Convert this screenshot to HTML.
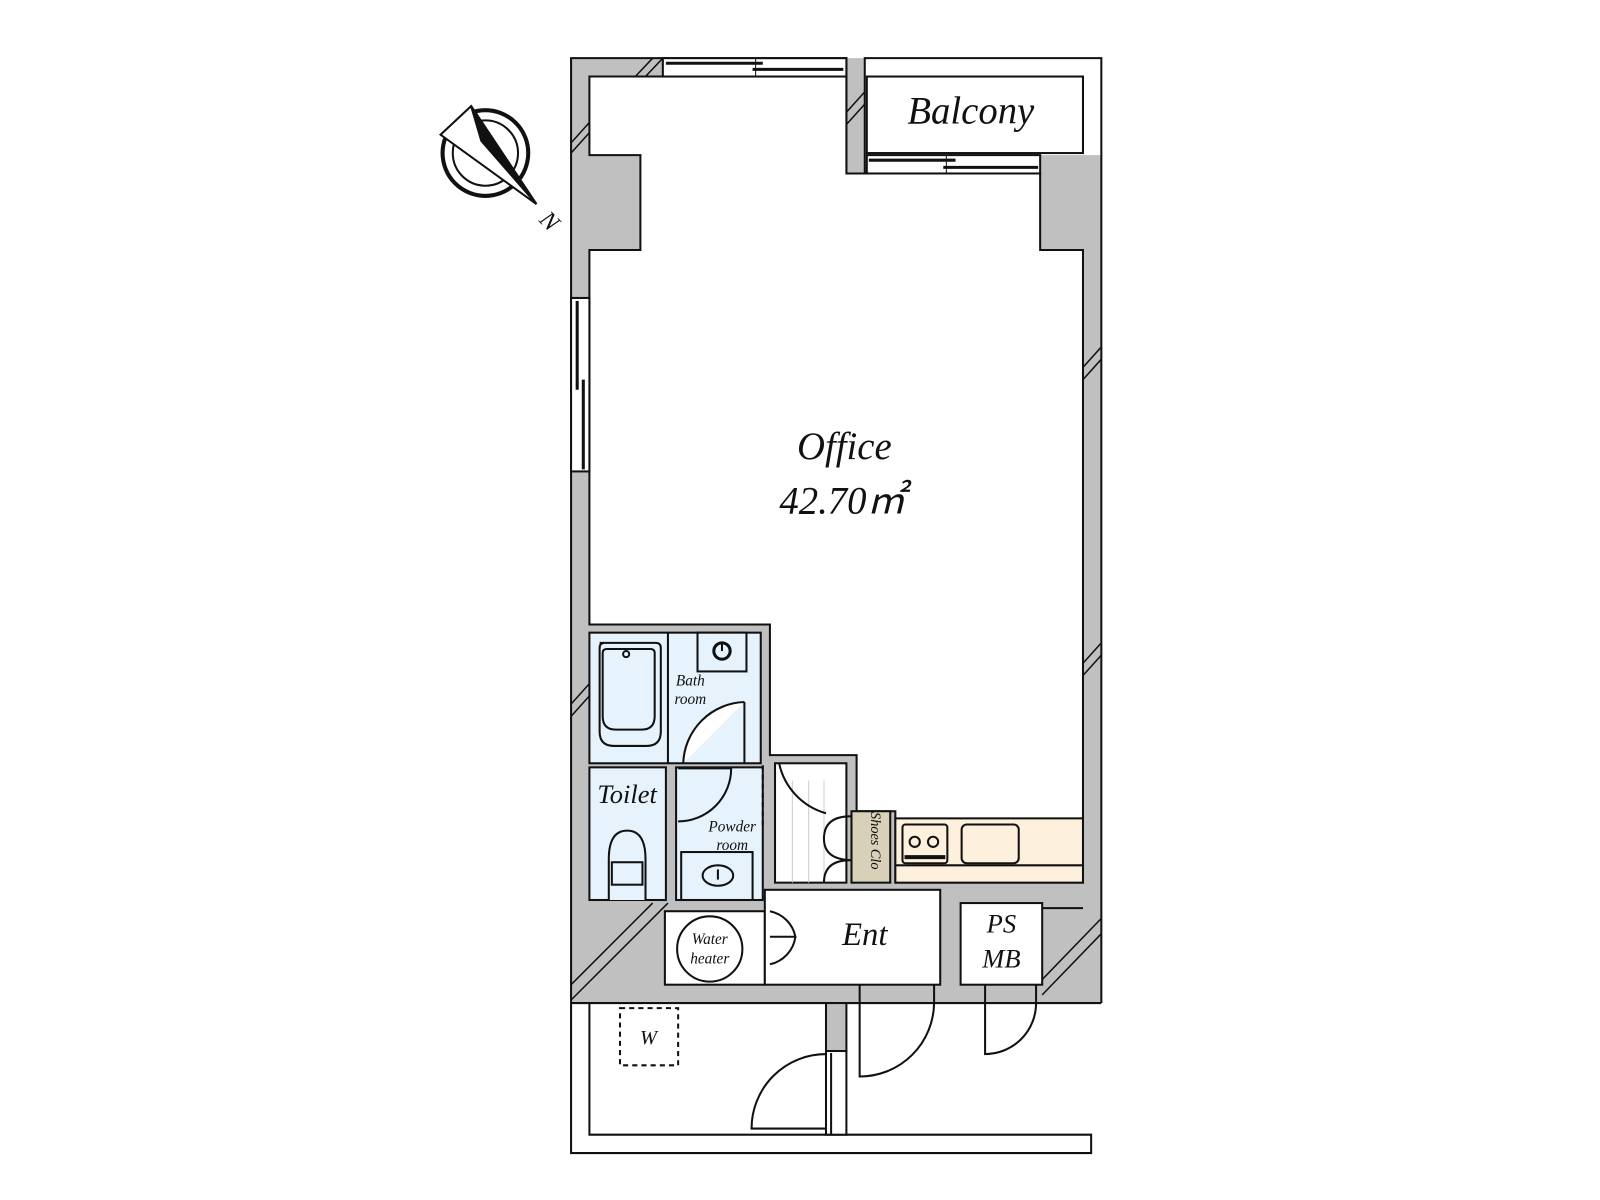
<!DOCTYPE html>
<html><head><meta charset="utf-8"><style>
html,body{margin:0;padding:0;background:#fff;}
svg{display:block;}
text{font-family:"Liberation Serif",serif;font-style:italic;fill:#111;}
</style></head><body>
<svg width="1600" height="1200" viewBox="0 0 1569 1176" preserveAspectRatio="none" xmlns="http://www.w3.org/2000/svg">
<g stroke="#111" stroke-width="2" fill="none">
<path d="M560 57 H848 V57 H1080 V983 H560 Z" fill="#c0c0c0" stroke="none"/>
<rect x="848" y="57" width="232" height="95" fill="#fff" stroke="none"/>
<path d="M560 983 V57 H830 V170 H848 V57 H1080 V983" fill="none"/>
<rect x="850" y="75" width="212" height="75" fill="#fff"/>
<path d="M578 75 H830 V170 H1020 V245 H1062 V865 H878 V802 H878 V795 H840 V740 H755 V612 H578 V245 H628 V152 H578 Z" fill="#fff"/>
<rect x="650" y="57" width="180" height="18" fill="#fff"/>
<line x1="653" y1="62" x2="748" y2="62" stroke-width="3"/>
<line x1="738" y1="68" x2="827" y2="68" stroke-width="3"/>
<line x1="741" y1="57" x2="741" y2="75" stroke-width="1"/>
<rect x="850" y="152" width="170" height="18" fill="#fff"/>
<line x1="852" y1="157" x2="937" y2="157" stroke-width="3"/>
<line x1="925" y1="164" x2="1018" y2="164" stroke-width="3"/>
<line x1="928" y1="152" x2="928" y2="170" stroke-width="1"/>
<rect x="560" y="292" width="18" height="170" fill="#fff"/>
<line x1="566" y1="295" x2="566" y2="382" stroke-width="3"/>
<line x1="572" y1="372" x2="572" y2="460" stroke-width="3"/>
<g stroke-width="1.5">
<line x1="560" y1="140" x2="578" y2="120"/><line x1="560" y1="150" x2="578" y2="130"/>
<line x1="623" y1="75" x2="640" y2="57"/><line x1="633" y1="75" x2="650" y2="57"/>
<line x1="830" y1="110" x2="848" y2="90"/><line x1="830" y1="122" x2="848" y2="102"/>
<line x1="1062" y1="360" x2="1080" y2="340"/><line x1="1062" y1="372" x2="1080" y2="352"/>
<line x1="1062" y1="650" x2="1080" y2="630"/><line x1="1062" y1="662" x2="1080" y2="642"/>
<line x1="560" y1="690" x2="578" y2="670"/><line x1="560" y1="702" x2="578" y2="682"/>
<line x1="560" y1="965" x2="640" y2="885"/><line x1="560" y1="980" x2="655" y2="885"/>
<line x1="1022" y1="960" x2="1080" y2="900"/><line x1="1022" y1="975" x2="1080" y2="915"/>
</g>
<rect x="578" y="620" width="168" height="128" fill="#e6f3fc"/>
<line x1="655" y1="620" x2="655" y2="748"/>
<rect x="684" y="620" width="48" height="38" fill="#e6f3fc"/>
<circle cx="708" cy="638" r="8" stroke-width="3"/><line x1="708" y1="629" x2="708" y2="638" stroke-width="2"/>
<path d="M588 630 h55 q5 0 5 5 v82 q0 14 -14 14 h-32 q-14 0 -14 -14 v-82 q0 -5 5 -5z" fill="#e6f3fc"/>
<path d="M594 636 h44 q4 0 4 4 v62 q0 13 -13 13 h-25 q-13 0 -13 -13 v-62 q0 -4 4 -4z"/>
<circle cx="614" cy="641" r="3"/>
<path d="M730 688 A62 62 0 0 0 670 748" fill="#fff"/><line x1="730" y1="688" x2="730" y2="748" />
<rect x="578" y="752" width="75" height="130" fill="#e6f3fc"/>
<path d="M597 882 v-40 q0 -28 18 -28 q18 0 18 28 v40" fill="#e6f3fc"/>
<rect x="600" y="845" width="30" height="22" fill="#e6f3fc"/>
<rect x="663" y="752" width="85" height="130" fill="#e6f3fc"/>
<rect x="668" y="835" width="70" height="47" fill="#e6f3fc"/>
<ellipse cx="704" cy="858" rx="15" ry="10"/>
<line x1="704" y1="852" x2="704" y2="862" stroke-width="2"/>
<path d="M665 753 H717 A52 52 0 0 1 665 805"/>
<line x1="748" y1="750" x2="748" y2="810" stroke-dasharray="5 4"/>
<rect x="760" y="748" width="70" height="117" fill="#fff"/>
<g stroke="#ccc" stroke-width="1"><line x1="777" y1="765" x2="777" y2="865"/><line x1="793" y1="765" x2="793" y2="865"/><line x1="808" y1="765" x2="808" y2="865"/></g>
<path d="M764 748 A65 65 0 0 0 810 797"/>
<path d="M834 800 Q808 800 808 822 Q808 842 834 843 Q808 843 808 865"/>
<rect x="835" y="795" width="38" height="70" fill="#d8d0b8"/>
<rect x="878" y="802" width="184" height="63" fill="#fdf0dc"/>
<line x1="878" y1="848" x2="1062" y2="848"/>
<rect x="885" y="808" width="44" height="38" rx="3" fill="#fdf0dc"/>
<circle cx="897" cy="825" r="5"/><circle cx="915" cy="825" r="5"/>
<line x1="887" y1="840" x2="927" y2="840" stroke-width="4"/>
<rect x="943" y="808" width="56" height="38" rx="5" fill="#fdf0dc"/>
<rect x="652" y="893" width="98" height="72" fill="#fff"/>
<circle cx="696" cy="930" r="32"/>
<rect x="750" y="872" width="172" height="93" fill="#fff"/>
<path d="M755 893 A32 32 0 0 1 780 918 L755 918 M780 918 A32 32 0 0 1 755 945"/>
<rect x="942" y="885" width="80" height="80" fill="#fff"/>
<line x1="1022" y1="890" x2="1062" y2="890"/>
<path d="M560 983 H1080 M560 983 V1130 H1070 V1112 H578 V983" />
<rect x="810" y="983" width="20" height="47" fill="#c0c0c0"/>
<rect x="810" y="1030" width="20" height="82" fill="#fff"/>
<line x1="815" y1="1032" x2="815" y2="1112"/>
<path d="M810 1033 A73 73 0 0 0 737 1106 H810"/>
<rect x="608" y="988" width="57" height="56" stroke-dasharray="5 4"/>
<path d="M843 965 V1055 A73 73 0 0 0 916 983 V965"/>
<path d="M966 965 V1033 A50 50 0 0 0 1016 983 V965"/>
<circle cx="476" cy="150" r="42" stroke-width="4"/>
<circle cx="476" cy="150" r="32" stroke-width="2"/>
<path d="M432 132 L462 104 L526 200 Z" fill="#fff" stroke-width="2"/>
<path d="M462 104 L472 138 L526 200 Z" fill="#111"/>
</g>
<text x="532" y="210" font-size="24" transform="rotate(45 522 208)">N</text>
<text x="952" y="121" font-size="38" text-anchor="middle">Balcony</text>
<text x="828" y="450" font-size="38" text-anchor="middle">Office</text>
<text x="826" y="503" font-size="38" text-anchor="middle">42.70㎡</text>
<text x="615" y="787" font-size="26" text-anchor="middle">Toilet</text>
<text x="677" y="672" font-size="15" text-anchor="middle">Bath</text>
<text x="677" y="690" font-size="15" text-anchor="middle">room</text>
<text x="718" y="815" font-size="15" text-anchor="middle">Powder</text>
<text x="718" y="833" font-size="15" text-anchor="middle">room</text>
<text x="848" y="926" font-size="32" text-anchor="middle">Ent</text>
<text x="982" y="914" font-size="26" text-anchor="middle">PS</text>
<text x="982" y="948" font-size="26" text-anchor="middle">MB</text>
<text x="696" y="925" font-size="15" text-anchor="middle">Water</text>
<text x="696" y="944" font-size="15" text-anchor="middle">heater</text>
<text x="636" y="1023" font-size="20" text-anchor="middle">W</text>
<text x="848" y="830" font-size="14" text-anchor="middle" transform="rotate(90 854 830)">Shoes Clo</text>
</svg>
</body></html>
